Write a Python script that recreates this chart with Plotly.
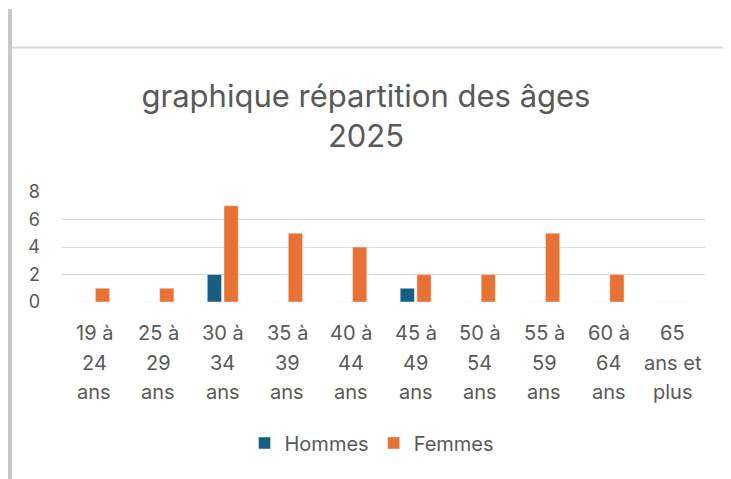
import plotly.graph_objects as go

categories = ["19 à<br>24<br>ans", "25 à<br>29<br>ans", "30 à<br>34<br>ans", "35 à<br>39<br>ans",
              "40 à<br>44<br>ans", "45 à<br>49<br>ans", "50 à<br>54<br>ans", "55 à<br>59<br>ans",
              "60 à<br>64<br>ans", "65<br>ans et<br>plus"]
hommes = [0, 0, 2, 0, 0, 1, 0, 0, 0, 0]
femmes = [1, 1, 7, 5, 4, 2, 2, 5, 2, 0]
y_ticks = [0, 2, 4, 6, 8]

FONT = "Inter"
GRAY = "#595959"
W, H = 731, 479
OFF = 8  # page body margin
# plot area in page pixels: x 62..705, y 192..302
L = 62 - OFF
R = W - (705 - OFF)
T = 192 - OFF
B = H - (302 - OFF)
pw, ph = W - L - R, H - T - B

def px_x(p):
    return (p - OFF - L) / pw

def px_y(p):
    return (H - B - (p - OFF)) / ph

fig = go.Figure()
fig.add_trace(go.Bar(name="Hommes", x=categories, y=hommes, marker_color="#156082"))
fig.add_trace(go.Bar(name="Femmes", x=categories, y=femmes, marker_color="#E97132"))

# multi-line category labels
annotations = []
for c in categories:
    for i, line in enumerate(c.split("<br>")):
        annotations.append(dict(x=c, xref="x", y=0, yref="paper", text=line, showarrow=False,
                                yanchor="middle", xanchor="center", yshift=-(31 + i * 29.5),
                                font=dict(family=FONT, size=20, color=GRAY)))

fig.update_layout(
    width=W, height=H,
    margin=dict(l=L, r=R, t=T, b=B, autoexpand=False),
    paper_bgcolor="white", plot_bgcolor="white",
    barmode="group", bargap=0.48, bargroupgap=0.15,
    title=dict(text="graphique répartition des âges<br>2025", x=(366 - OFF) / W, xref="container",
               y=1 - (107 - OFF) / H, yref="container", yanchor="middle", xanchor="center",
               font=dict(family=FONT, size=31, color=GRAY)),
    font=dict(family=FONT, color=GRAY),
    xaxis=dict(showticklabels=False, showgrid=False, zeroline=False, showline=False, ticks=""),
    yaxis=dict(range=[0, 8], tickvals=y_ticks, showgrid=True, gridcolor="#d9d9d9", gridwidth=1,
               zeroline=False, showline=False, ticks="", ticklabelstandoff=21,
               tickfont=dict(family=FONT, size=18, color=GRAY)),
    legend=dict(orientation="h", x=(372 - OFF) / W, xref="container", xanchor="center",
                y=1 - (443 - OFF) / H, yref="container", yanchor="middle",
                font=dict(family=FONT, size=20, color=GRAY), itemwidth=30, traceorder="normal"),
    annotations=annotations,
    shapes=[
        dict(type="rect", xref="paper", yref="paper", x0=px_x(OFF), x1=px_x(12), y0=px_y(H + OFF + 5), y1=px_y(9),
             fillcolor="#c8c8c8", line=dict(width=0), layer="below"),
        dict(type="line", xref="paper", yref="paper", x0=px_x(12), x1=px_x(W + OFF + 5), y0=px_y(47.5), y1=px_y(47.5),
             line=dict(color="#dcdcdc", width=2), layer="below"),
    ],
)

fig.write_html("out.html")
